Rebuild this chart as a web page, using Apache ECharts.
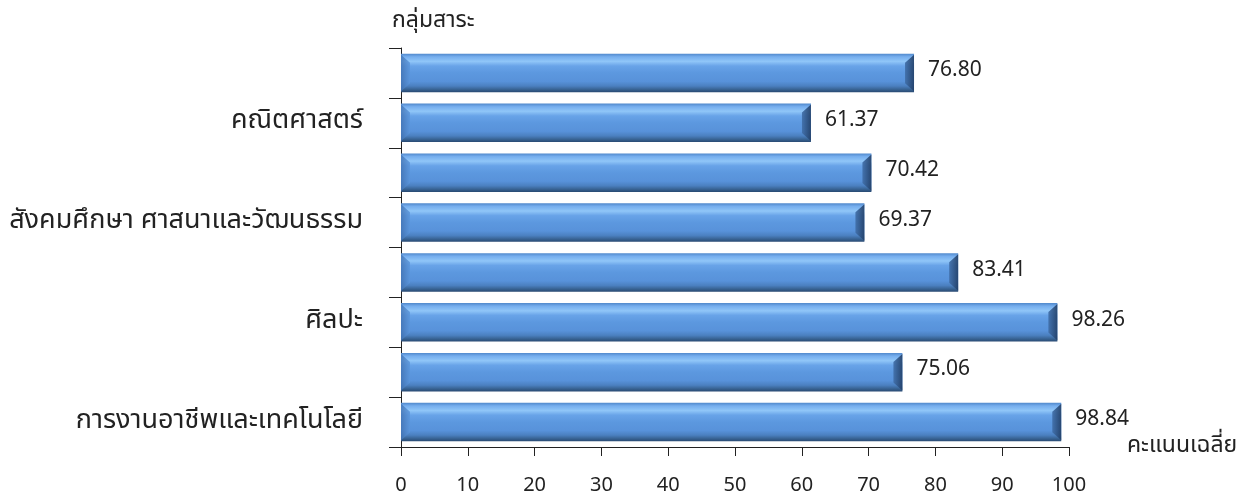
<!DOCTYPE html>
<html>
<head>
<meta charset="utf-8">
<script src="https://cdn.jsdelivr.net/npm/echarts@6/dist/echarts.min.js"></script>
<style>
html,body{margin:0;padding:0;background:#fff;}
#chart{width:1253px;height:501px;}
</style>
</head>
<body>
<div id="chart"></div>
<script>
// categories listed from bottom to top
const categories = ['การงานอาชีพและเทคโนโลยี','ภาษาต่างประเทศ','ศิลปะ','สุขศึกษาและพลศึกษา','สังคมศึกษา ศาสนาและวัฒนธรรม','วิทยาศาสตร์','คณิตศาสตร์','ภาษาไทย'];
const values = [98.84, 75.06, 98.26, 83.41, 69.37, 70.42, 61.37, 76.80];
const xTicks = [0, 10, 20, 30, 40, 50, 60, 70, 80, 90, 100];
const yAxisTitle = 'กลุ่มสาระ';
const xAxisTitle = 'คะแนนเฉลี่ย';

const FONT = '"Noto Sans Thai","Noto Sans","DejaVu Sans",sans-serif';
const chart = echarts.init(document.getElementById('chart'));

function renderBar(params, api) {
  const idx = api.value(0);
  const val = api.value(1);
  const start = api.coord([0, idx]);
  const end = api.coord([val, idx]);
  const band = api.size([0, 1])[1];
  const h = band * 0.77;
  const x0 = start[0], x1 = end[0];
  const y0 = start[1] - h / 2, y1 = start[1] + h / 2;
  const b = 9;
  const face = new echarts.graphic.LinearGradient(0, 0, 0, 1, [
    {offset: 0, color: '#5189cc'},
    {offset: 0.08, color: '#76aeee'},
    {offset: 0.2, color: '#90c6f8'},
    {offset: 0.32, color: '#68a3e8'},
    {offset: 0.5, color: '#5c98df'},
    {offset: 0.72, color: '#5892da'},
    {offset: 0.84, color: '#4b80c0'},
    {offset: 0.93, color: '#386393'},
    {offset: 1, color: '#294a73'}
  ]);
  const rightG = new echarts.graphic.LinearGradient(0, 0, 1, 0, [
    {offset: 0, color: '#406ea8'},
    {offset: 1, color: '#213e66'}
  ]);
  const leftG = new echarts.graphic.LinearGradient(0, 0, 1, 0, [
    {offset: 0, color: '#4172b2'},
    {offset: 1, color: '#5b96dc'}
  ]);
  return {
    type: 'group',
    children: [
      {type: 'rect', shape: {x: x0, y: y0, width: x1 - x0, height: h}, style: {fill: face}},
      {type: 'polygon', shape: {points: [[x0, y0 + 1], [x0 + b, y0 + b], [x0 + b, y1 - b], [x0, y1 - 1]]}, style: {fill: leftG, opacity: 0.8}},
      {type: 'polygon', shape: {points: [[x1, y0 + 1], [x1 - b, y0 + b], [x1 - b, y1 - b], [x1, y1 - 1]]}, style: {fill: rightG, opacity: 0.9}},
      {type: 'text', x: x1 + 14, y: start[1] - 1,
        style: {text: val.toFixed(2), fill: '#222', font: '21px ' + FONT, textVerticalAlign: 'middle', textAlign: 'left'}}
    ]
  };
}

chart.setOption({
  animation: false,
  backgroundColor: '#fff',
  grid: {left: 401, right: 184, top: 48, bottom: 54, containLabel: false},
  xAxis: {
    type: 'value', min: 0, max: 100, interval: 10,
    name: xAxisTitle, nameLocation: 'end', nameGap: 58,
    nameTextStyle: {fontSize: 23, color: '#222', fontFamily: FONT, align: 'left', verticalAlign: 'middle', padding: [0, 0, 14, 0]},
    axisLine: {show: true, lineStyle: {color: '#222', width: 1}},
    axisTick: {show: true, length: 9, lineStyle: {color: '#222'}},
    axisLabel: {margin: 30, fontSize: 20, color: '#222', fontFamily: FONT, formatter: v => xTicks.includes(v) ? String(v) : ''},
    splitLine: {show: false}
  },
  yAxis: {
    type: 'category', data: categories,
    name: yAxisTitle, nameLocation: 'end', nameGap: 14,
    nameTextStyle: {fontSize: 23, color: '#222', fontFamily: FONT, align: 'left', padding: [0, 0, 0, -9]},
    axisLine: {show: true, lineStyle: {color: '#222', width: 1}},
    axisTick: {show: true, interval: 0, length: 12, inside: false, lineStyle: {color: '#222'}},
    axisLabel: {interval: 1, margin: 38, fontSize: 27, color: '#222', fontFamily: FONT},
    splitLine: {show: false}
  },
  series: [{
    type: 'custom',
    renderItem: renderBar,
    encode: {x: 1, y: 0},
    data: values.map((v, i) => [i, v])
  }]
});
</script>
</body>
</html>
